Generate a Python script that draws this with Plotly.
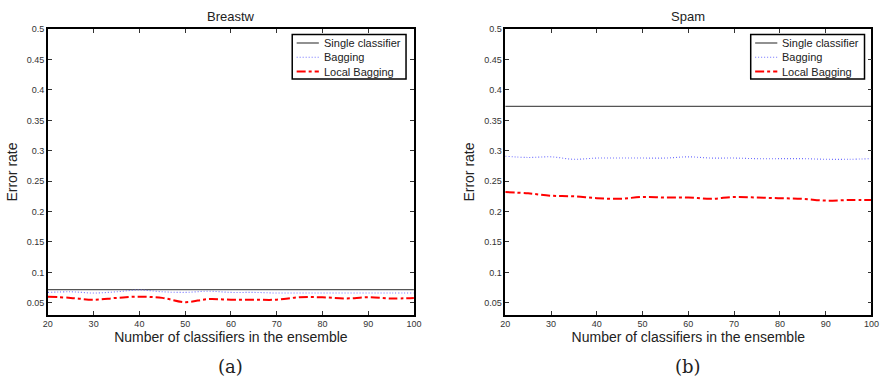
import plotly.graph_objects as go

x = [20, 25, 30, 35, 40, 45, 50, 55, 60, 65, 70, 75, 80, 85, 90, 95, 100]

# Breastw
breast_single = [0.0715] * len(x)
breast_bagging = [0.067, 0.068, 0.066, 0.068, 0.071, 0.068, 0.067, 0.069, 0.067, 0.067, 0.066, 0.066, 0.066, 0.066, 0.066, 0.066, 0.066]
breast_local = [0.060, 0.058, 0.055, 0.058, 0.060, 0.058, 0.051, 0.056, 0.055, 0.055, 0.055, 0.059, 0.059, 0.057, 0.059, 0.057, 0.058]

# Spam
spam_single = [0.373] * len(x)
spam_bagging = [0.291, 0.289, 0.290, 0.286, 0.288, 0.288, 0.288, 0.288, 0.290, 0.288, 0.288, 0.287, 0.287, 0.287, 0.286, 0.286, 0.287]
spam_local = [0.232, 0.230, 0.226, 0.225, 0.222, 0.221, 0.224, 0.223, 0.223, 0.221, 0.224, 0.223, 0.222, 0.221, 0.218, 0.219, 0.219]

series_names = ["Single classifier", "Bagging", "Local Bagging"]
titles = ["Breastw", "Spam"]
sublabels = ["(a)", "(b)"]
xticks = [20, 30, 40, 50, 60, 70, 80, 90, 100]
yticks = [0.05, 0.1, 0.15, 0.2, 0.25, 0.3, 0.35, 0.4, 0.45, 0.5]
yticktext = ["0.05", "0.1", "0.15", "0.2", "0.25", "0.3", "0.35", "0.4", "0.45", "0.5"]

W, H = 887, 383
FONT = "Liberation Sans, Arial"
styles = [
    dict(color="#555555", width=1.3, dash="solid"),
    dict(color="#6f6fff", width=1.1, dash="1px,2px"),
    dict(color="#ff0000", width=2, dash="dashdot"),
]

fig = go.Figure()

datasets = [(breast_single, breast_bagging, breast_local), (spam_single, spam_bagging, spam_local)]
xdoms = [[43.5 / W, 415 / W], [507.7 / W, 879.3 / W]]
ydom = [(H - 314) / H, (H - 24.5) / H]

for i, series in enumerate(datasets):
    xa = "x" if i == 0 else "x2"
    ya = "y" if i == 0 else "y2"
    for k, vals in enumerate(series):
        fig.add_trace(go.Scatter(x=x, y=vals, mode="lines", name=series_names[k],
                                 line_shape="linear" if k == 0 else "spline",
                                 line=styles[k], xaxis=xa, yaxis=ya, showlegend=False))

axis_common = dict(showline=True, linecolor="black", linewidth=1.5, mirror="ticks",
                   ticks="inside", ticklen=4, tickcolor="#333333", showgrid=False, zeroline=False,
                   tickfont=dict(family=FONT, size=9, color="#333333"))

for i in range(2):
    sfx = "" if i == 0 else "2"
    fig.update_layout(**{
        "xaxis" + sfx: dict(axis_common, domain=xdoms[i], range=[20, 100], tickvals=xticks,
                            anchor="y" + sfx,
                            title=dict(text="Number of classifiers in the ensemble", standoff=2,
                                       font=dict(family=FONT, size=14, color="#222222"))),
        "yaxis" + sfx: dict(axis_common, domain=ydom, range=[0.03, 0.5], tickvals=yticks, ticktext=yticktext,
                            anchor="x" + sfx,
                            title=dict(text="Error rate", standoff=6,
                                       font=dict(family=FONT, size=14, color="#222222"))),
    })
    xc = (xdoms[i][0] + xdoms[i][1]) / 2
    fig.add_annotation(text=titles[i], x=xc, y=(H - 12) / H, xref="paper", yref="paper",
                       showarrow=False, font=dict(family=FONT, size=13, color="#222222"),
                       xanchor="center", yanchor="middle")
    fig.add_annotation(text=sublabels[i], x=xc, y=(H - 366) / H, xref="paper", yref="paper",
                       showarrow=False, font=dict(family="DejaVu Serif, Liberation Serif", size=18, color="#222222"),
                       xanchor="center", yanchor="middle")

    # compact legend box (MATLAB style)
    box_right = 407 if i == 0 else 872.3
    box_left = box_right - 115.5
    fig.add_shape(type="rect", xref="paper", yref="paper",
                  x0=box_left / W, x1=box_right / W, y0=(H - 75) / H, y1=(H - 30) / H,
                  line=dict(color="black", width=1.5), fillcolor="white", layer="above")
    for k in range(3):
        yy = (H - (38.5 + 14.5 * k)) / H
        fig.add_shape(type="line", xref="paper", yref="paper",
                      x0=(box_left + 4.5) / W, x1=(box_left + 27) / W, y0=yy, y1=yy,
                      line=styles[k], layer="above")
        fig.add_annotation(text=series_names[k], x=(box_left + 30) / W, y=yy, xref="paper", yref="paper",
                           showarrow=False, xanchor="left", yanchor="middle",
                           font=dict(family=FONT, size=11, color="#222222"))

fig.update_layout(
    width=W, height=H,
    margin=dict(l=0, r=0, t=0, b=0),
    paper_bgcolor="white", plot_bgcolor="white",
    showlegend=False,
)

fig.write_html("out.html")
